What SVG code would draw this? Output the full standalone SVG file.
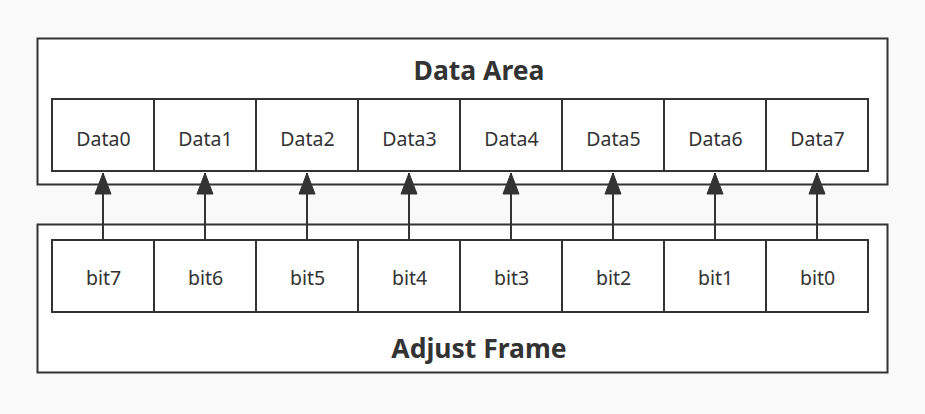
<svg xmlns="http://www.w3.org/2000/svg" width="925" height="414" viewBox="0 0 925 414">
  <style>
    .frame { fill: #ffffff; stroke: #333333; stroke-width: 2; }
    .cell { fill: #ffffff; stroke: #333333; stroke-width: 2; }
    .title { font-family: "Noto Sans", "Open Sans", sans-serif; font-weight: bold; font-size: 26.5px; fill: #333333; text-anchor: middle; }
    .label { font-family: "Noto Sans", "Open Sans", sans-serif; font-size: 19.5px; fill: #333333; text-anchor: middle; }
    .conn { stroke: #333333; stroke-width: 2; fill: none; marker-end: url(#arrow); }
  </style>
  <defs>
    <marker id="arrow" markerUnits="userSpaceOnUse" markerWidth="18" markerHeight="24" viewBox="0 0 18 24" refX="9" refY="1" orient="0">
      <path d="M9,1 L17,22 L1,22 Z" fill="#333333" stroke="#333333" stroke-width="1"/>
    </marker>
  </defs>
  <rect x="0" y="0" width="925" height="414" fill="#f9f9f9"/>

  <g id="data-area">
    <rect class="frame" x="37.5" y="38.5" width="850" height="146"/>
    <text class="title" x="479" y="80">Data Area</text>
  </g>
  <g id="adjust-frame">
    <rect class="frame" x="37.5" y="224.5" width="850" height="148"/>
    <text class="title" x="479" y="357.5">Adjust Frame</text>
  </g>

  <g id="data0"><rect class="cell" x="52" y="99" width="102" height="72"/><text class="label" x="103.5" y="146">Data0</text></g>
  <g id="data1"><rect class="cell" x="154" y="99" width="102" height="72"/><text class="label" x="205.5" y="146">Data1</text></g>
  <g id="data2"><rect class="cell" x="256" y="99" width="102" height="72"/><text class="label" x="307.5" y="146">Data2</text></g>
  <g id="data3"><rect class="cell" x="358" y="99" width="102" height="72"/><text class="label" x="409.5" y="146">Data3</text></g>
  <g id="data4"><rect class="cell" x="460" y="99" width="102" height="72"/><text class="label" x="511.5" y="146">Data4</text></g>
  <g id="data5"><rect class="cell" x="562" y="99" width="102" height="72"/><text class="label" x="613.5" y="146">Data5</text></g>
  <g id="data6"><rect class="cell" x="664" y="99" width="102" height="72"/><text class="label" x="715.5" y="146">Data6</text></g>
  <g id="data7"><rect class="cell" x="766" y="99" width="102" height="72"/><text class="label" x="817.5" y="146">Data7</text></g>

  <g id="bit7"><rect class="cell" x="52" y="240" width="102" height="72"/><text class="label" x="103.5" y="284.5">bit7</text></g>
  <g id="bit6"><rect class="cell" x="154" y="240" width="102" height="72"/><text class="label" x="205.5" y="284.5">bit6</text></g>
  <g id="bit5"><rect class="cell" x="256" y="240" width="102" height="72"/><text class="label" x="307.5" y="284.5">bit5</text></g>
  <g id="bit4"><rect class="cell" x="358" y="240" width="102" height="72"/><text class="label" x="409.5" y="284.5">bit4</text></g>
  <g id="bit3"><rect class="cell" x="460" y="240" width="102" height="72"/><text class="label" x="511.5" y="284.5">bit3</text></g>
  <g id="bit2"><rect class="cell" x="562" y="240" width="102" height="72"/><text class="label" x="613.5" y="284.5">bit2</text></g>
  <g id="bit1"><rect class="cell" x="664" y="240" width="102" height="72"/><text class="label" x="715.5" y="284.5">bit1</text></g>
  <g id="bit0"><rect class="cell" x="766" y="240" width="102" height="72"/><text class="label" x="817.5" y="284.5">bit0</text></g>

  <g id="connectors">
    <line class="conn" x1="103" y1="239" x2="103" y2="173"/>
    <line class="conn" x1="205" y1="239" x2="205" y2="173"/>
    <line class="conn" x1="307" y1="239" x2="307" y2="173"/>
    <line class="conn" x1="409" y1="239" x2="409" y2="173"/>
    <line class="conn" x1="511" y1="239" x2="511" y2="173"/>
    <line class="conn" x1="613" y1="239" x2="613" y2="173"/>
    <line class="conn" x1="715" y1="239" x2="715" y2="173"/>
    <line class="conn" x1="817" y1="239" x2="817" y2="173"/>
  </g>
</svg>
